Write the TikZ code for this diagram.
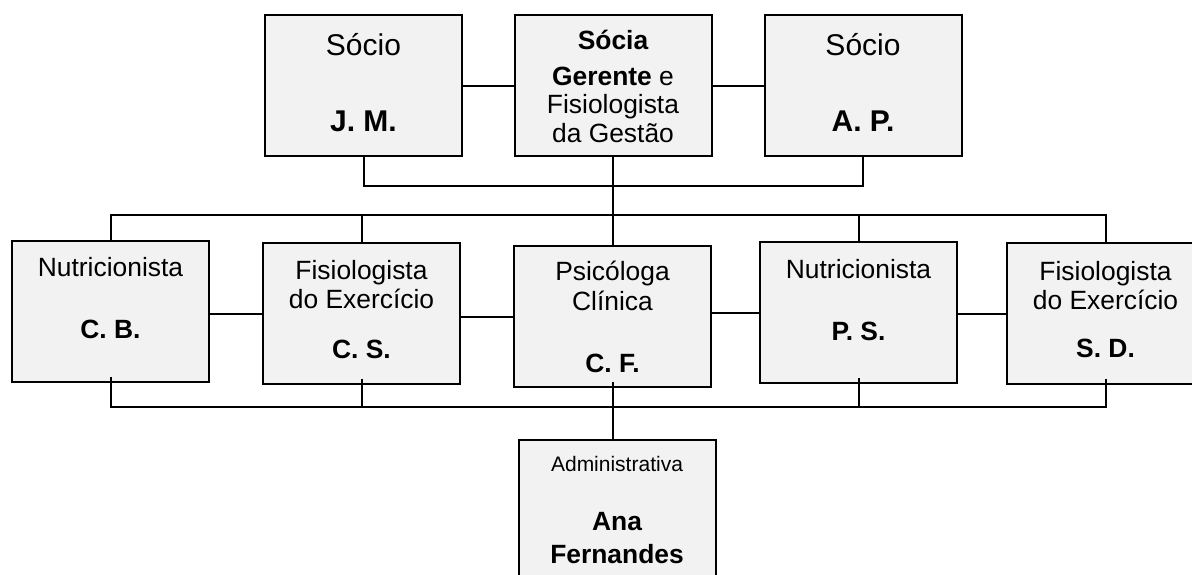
\documentclass[tikz,border=0pt]{standalone}
\usepackage{fontspec}
\setmainfont{Liberation Sans}
\definecolor{boxgray}{HTML}{F2F2F2}
\begin{document}
\begin{tikzpicture}[x=0.5pt,y=-0.5pt,line width=1pt,
  box/.style={draw,line width=1pt,fill=boxgray,minimum width=98.5pt,minimum height=70.5pt,inner sep=0pt},
  txt/.style={anchor=base,inner sep=0pt,font=\fontsize{13.2}{14}\selectfont},
  big/.style={anchor=base,inner sep=0pt,font=\fontsize{15}{17}\selectfont},
  small/.style={anchor=base,inner sep=0pt,font=\fontsize{10.5}{12}\selectfont}]
\useasboundingbox (0,0) rectangle (1192,574);
\clip (0,0) rectangle (1192,574);
\node[box] (jm) at (363.5,85.5) {};
\node[box] (sg) at (613,85.5) {};
\node[box] (ap) at (863,85.5) {};
\node[box] (cb) at (110.5,311.5) {};
\node[box] (cs) at (361.5,313.5) {};
\node[box] (cf) at (612.5,316.5) {};
\node[box] (ps) at (858.5,312.5) {};
\node[box] (sd) at (1105.5,313.5) {};
\node[box,minimum height=75pt] (adm) at (617,515) {};
\node[big] (jm-role) at (363.5,55) {Sócio};
\node[big] (jm-name) at (363.5,131) {\bfseries J. M.};
\node[txt] (sg-l1) at (613,49) {\bfseries Sócia};
\node[txt] (sg-l2) at (613,85) {{\bfseries Gerente} e};
\node[txt] (sg-l3) at (613,113) {Fisiologista};
\node[txt] (sg-l4) at (613,142) {da Gestão};
\node[big] (ap-role) at (863,55) {Sócio};
\node[big] (ap-name) at (863,131) {\bfseries A. P.};
\node[txt] (cb-role) at (110.5,276) {Nutricionista};
\node[txt] (cb-name) at (110.5,338) {\bfseries C. B.};
\node[txt] (cs-l1) at (361.5,279) {Fisiologista};
\node[txt] (cs-l2) at (361.5,308) {do Exercício};
\node[txt] (cs-name) at (361.5,358) {\bfseries C. S.};
\node[txt] (cf-l1) at (612.5,280) {Psicóloga};
\node[txt] (cf-l2) at (612.5,310) {Clínica};
\node[txt] (cf-name) at (612.5,372) {\bfseries C. F.};
\node[txt] (ps-role) at (858.5,278) {Nutricionista};
\node[txt] (ps-name) at (858.5,340) {\bfseries P. S.};
\node[txt] (sd-l1) at (1105.5,280) {Fisiologista};
\node[txt] (sd-l2) at (1105.5,309) {do Exercício};
\node[txt] (sd-name) at (1105.5,357) {\bfseries S. D.};
\node[small] (adm-role) at (617,471) {Administrativa};
\node[txt] (adm-l1) at (617,530) {\bfseries Ana};
\node[txt] (adm-l2) at (617,563) {\bfseries Fernandes};
\coordinate (bus1) at (0,215);
\coordinate (bus2) at (0,407);
\draw (jm) -- (sg);
\draw (sg) -- (ap);
\draw (jm.south) -- ++(0,29) -| (ap.south);
\draw (sg.south) -- (sg.south |- bus1);
\draw (cb.north) |- (sd.north |- bus1) -- (sd.north);
\draw (cs.north) -- (cs.north |- bus1);
\draw (cf.north) -- (cf.north |- bus1);
\draw (ps.north) -- (ps.north |- bus1);
\draw (cs.west -| cb.east) -- (cs.west);
\draw (cf.west -| cs.east) -- (cf.west);
\draw (ps.west -| cf.east) -- (ps.west);
\draw (sd.west -| ps.east) -- (sd.west);
\draw[shorten <=-3pt,shorten >=-3pt] (cb.south) |- (sd.south |- bus2) -- (sd.south);
\draw[shorten <=-3pt] (cs.south) -- (cs.south |- bus2);
\draw[shorten <=-3pt] (ps.south) -- (ps.south |- bus2);
\draw[shorten <=-3pt] (cf.south) -- (cf.south |- adm.north);
\end{tikzpicture}
\end{document}
